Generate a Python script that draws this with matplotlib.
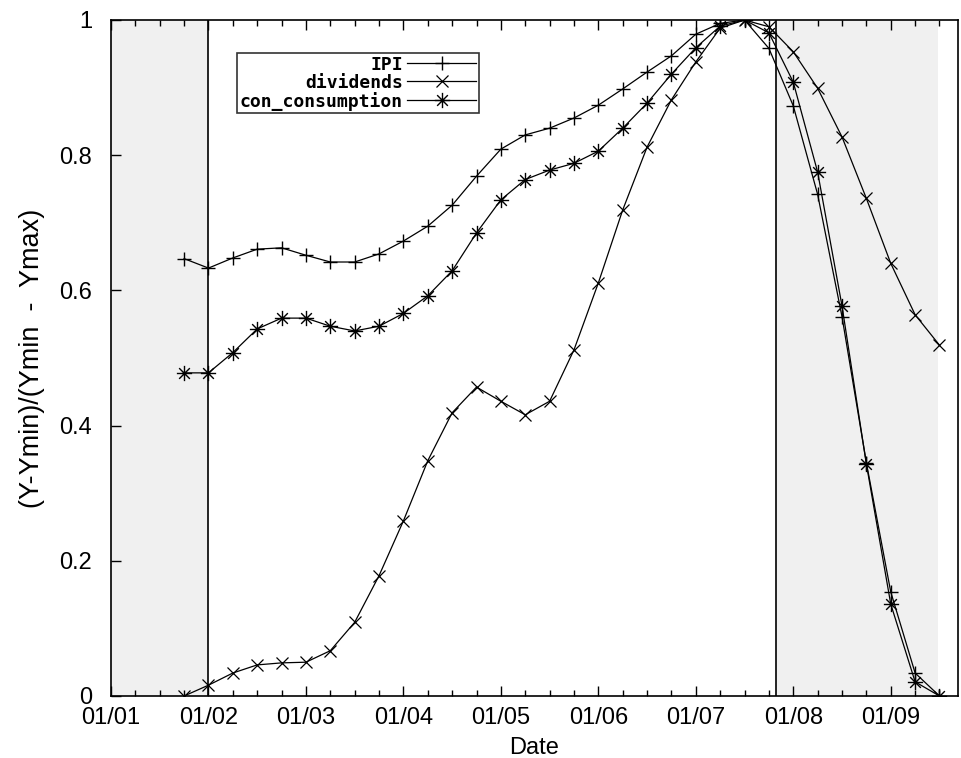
import matplotlib
matplotlib.use("Agg")
import matplotlib.pyplot as plt
from matplotlib.path import Path
from matplotlib.ticker import FixedLocator, MultipleLocator

# Quarterly observations, decimal years (Q4 2001 .. Q3 2009)
dates = [2001.75 + 0.25 * i for i in range(32)]

ipi = [0.647, 0.633, 0.648, 0.661, 0.663, 0.652, 0.642, 0.642, 0.654, 0.673,
       0.695, 0.726, 0.769, 0.809, 0.830, 0.840, 0.855, 0.874, 0.898, 0.923,
       0.947, 0.979, 0.995, 1.000, 0.958, 0.873, 0.742, 0.561, 0.345, 0.154,
       0.034, 0.000]

dividends = [0.000, 0.016, 0.034, 0.046, 0.049, 0.050, 0.067, 0.109, 0.178, 0.259,
             0.348, 0.419, 0.457, 0.436, 0.416, 0.436, 0.512, 0.611, 0.719, 0.812,
             0.882, 0.938, 0.988, 1.000, 0.990, 0.953, 0.899, 0.827, 0.736, 0.640,
             0.564, 0.519]

con_consumption = [0.478, 0.478, 0.508, 0.543, 0.559, 0.559, 0.547, 0.540, 0.547, 0.566,
                   0.592, 0.629, 0.685, 0.734, 0.764, 0.778, 0.788, 0.806, 0.840, 0.877,
                   0.920, 0.959, 0.991, 1.000, 0.981, 0.908, 0.775, 0.577, 0.343, 0.136,
                   0.021, 0.000]

recessions = [(2000.5, 2002.0), (2007.82, 2009.48)]
recession_lines = [2002.0, 2007.82]

xtick_pos = [2001, 2002, 2003, 2004, 2005, 2006, 2007, 2008, 2009]
xtick_labels = ["01/01", "01/02", "01/03", "01/04", "01/05", "01/06", "01/07", "01/08", "01/09"]
ytick_pos = [0, 0.2, 0.4, 0.6, 0.8, 1.0]
ytick_labels = ["0", "0.2", "0.4", "0.6", "0.8", "1"]

plt.rcParams['font.family'] = ['Liberation Sans', 'DejaVu Sans']

fig = plt.figure(figsize=(9.61, 7.58), dpi=100)
ax = fig.add_axes([111 / 961, 62 / 758, 847 / 961, 676 / 758])

for a, b in recessions:
    ax.axvspan(a, b, color="#f0f0f0", lw=0, zorder=0)
for xv in recession_lines:
    ax.axvline(xv, color="black", lw=1.2, zorder=1)

# asterisk marker: + and x overlaid (gnuplot point type 3)
star_path = Path(
    [(-1, 0), (1, 0), (0, -1), (0, 1), (-0.7, -0.7), (0.7, 0.7), (-0.7, 0.7), (0.7, -0.7)],
    [Path.MOVETO, Path.LINETO] * 4,
)

lw = 0.9
ax.plot(dates, ipi, color="black", lw=lw, marker="+", ms=10, mew=1.0, label="IPI", zorder=3)
ax.plot(dates, dividends, color="black", lw=lw, marker="x", ms=8, mew=0.9, label="dividends", zorder=3)
ax.plot(dates, con_consumption, color="black", lw=lw, marker=star_path, ms=11, mew=1.0,
        mfc="none", label="con_consumption", zorder=3)

ax.set_xlim(2001.0, 2009.69)
ax.set_ylim(0, 1)

ax.xaxis.set_major_locator(FixedLocator(xtick_pos))
ax.set_xticklabels(xtick_labels)
ax.xaxis.set_minor_locator(MultipleLocator(0.25))
ax.yaxis.set_major_locator(FixedLocator(ytick_pos))
ax.set_yticklabels(ytick_labels)
for t in ax.get_yticklabels():
    t.set_verticalalignment("center_baseline")

ax.tick_params(axis="x", which="major", direction="in", length=7, width=1, top=True,
               labelsize=17, pad=8)
ax.tick_params(axis="x", which="minor", direction="in", length=4, width=1, top=True)
ax.tick_params(axis="y", which="major", direction="in", length=7, width=1, right=False,
               labelsize=17, pad=13.5)
for s in ax.spines.values():
    s.set_linewidth(1.2)

ax.set_xlabel("Date", fontsize=17, labelpad=6)
ax.set_ylabel("(Y-Ymin)/(Ymin  -  Ymax)", fontsize=19.5, labelpad=10)

leg = ax.legend(loc="upper left", bbox_to_anchor=(126 / 847, 1 - 33 / 676),
                markerfirst=False, frameon=True, fancybox=False, edgecolor="black",
                prop={"family": "DejaVu Sans Mono", "weight": "bold", "size": 13},
                handlelength=3.8, handletextpad=0.25, labelspacing=0.0,
                borderpad=0.15, borderaxespad=0)
leg.get_frame().set_linewidth(1.2)
leg.set_zorder(5)

fig.savefig("out.png", dpi=100)
